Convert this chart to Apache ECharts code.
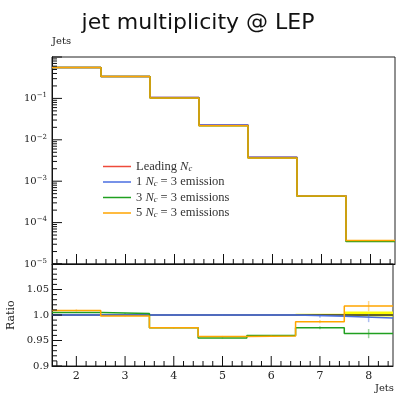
<!DOCTYPE html>
<html><head><meta charset="utf-8">
<script src="https://cdn.jsdelivr.net/npm/echarts@6/dist/echarts.min.js"></script>
<style>html,body{margin:0;padding:0;background:#fff}#c{width:396px;height:396px}</style>
</head><body><div id="c"></div>
<script>
// ---- data ----
const bins = [2, 3, 4, 5, 6, 7, 8];
const seriesNames = ['Leading N_c', '1 N_c = 3 emission', '3 N_c = 3 emissions', '5 N_c = 3 emissions'];
const leadingValues = [0.556, 0.338, 0.105, 0.0229, 0.00378, 0.000446, 0.0000363];
const ratioLeading = [1.0, 1.0, 1.0, 1.0, 1.0, 1.0, 1.0];
const ratio1 = [1.0, 1.0, 1.0, 1.0, 1.0, 0.9975, 0.994];
const ratio3 = [1.005, 1.003, 0.975, 0.955, 0.960, 0.975, 0.9635];
const ratio5 = [1.009, 0.998, 0.975, 0.958, 0.959, 0.987, 1.0175];
const leadingErr = [0.0005, 0.0005, 0.0005, 0.0005, 0.0005, 0.0015, 0.005];
const leadingBandCenter = [1.0, 1.0, 1.0, 1.0, 1.0, 1.001, 1.002];
const err1 = [0.001, 0.001, 0.001, 0.001, 0.001, 0.003, 0.008];
const err3 = [0.001, 0.001, 0.001, 0.001, 0.001, 0.003, 0.009];
const err5 = [0.002, 0.001, 0.001, 0.001, 0.001, 0.003, 0.01];
const xTickLabels = ['2', '3', '4', '5', '6', '7', '8'];
const ratioTickLabels = {'0.9': '0.9', '0.95': '0.95', '1': '1.0', '1.05': '1.05'};
const colors = ['#ee4a3a', '#4a6ee0', '#20a020', '#ffa500'];

// ---- helpers ----
function stepData(vals) {
  const d = bins.map((b, i) => [b - 0.5, vals[i]]);
  d.push([bins[bins.length - 1] + 0.5, vals[vals.length - 1]]);
  return d;
}
const ratios = [ratioLeading, ratio1, ratio3, ratio5];
const errs = [leadingErr, err1, err3, err5];
const mainVals = ratios.map(r => leadingValues.map((v, i) => v * r[i]));

const X0 = 1.5, X1 = 8.5;
function xTicks(yBase) {
  const t = [];
  for (let k = 15; k <= 85; k += 1) {
    const v = k / 10;
    if (k % 10 === 0) t.push([v, yBase, 10]);
    else if (k % 2 === 0) t.push([v, yBase, 5]);
  }
  return t;
}
const mainYTicks = [];
for (let e = -5; e <= 0; e++) {
  mainYTicks.push([X0, Math.pow(10, e), 10, 1]);
  if (e < 0) for (let m = 2; m <= 9; m++) mainYTicks.push([X0, m * Math.pow(10, e), 5, 1]);
}
const ratioYTicks = [];
for (let k = 90; k <= 110; k++) {
  const v = k / 100;
  ratioYTicks.push([X0, v, k % 5 === 0 ? 10 : 5, 1]);
}
const mainTickData = xTicks(1e-5).map(a => [a[0], a[1], a[2], 0]).concat(mainYTicks);
const ratioTickData = xTicks(0.9).map(a => [a[0], a[1], a[2], 0]).concat(ratioYTicks);

function tickRender(params, api) {
  const p = api.coord([api.value(0), api.value(1)]);
  const len = api.value(2);
  const vert = api.value(3) === 0;
  const shape = vert ? {x1: p[0], y1: p[1], x2: p[0], y2: p[1] - len}
                     : {x1: p[0], y1: p[1], x2: p[0] + len, y2: p[1]};
  return {type: 'line', shape: shape, style: {stroke: '#111', lineWidth: 1}};
}

const LF = 'Liberation Serif';
const legendRich = {
  n: {fontFamily: LF, fontSize: 12.5, color: '#333'},
  i: {fontFamily: LF, fontStyle: 'italic', fontSize: 12.5, color: '#333'},
  s: {fontFamily: LF, fontStyle: 'italic', fontSize: 8.5, color: '#333', verticalAlign: 'bottom', padding: [5, 0, 0, 0]}
};
function legendFmt(name) {
  return name.replace(/^(.*?)N_c(.*)$/, (m, a, b) => '{n|' + a + '}{i|N}{s|c}{n|' + b + '}');
}

const series = [];
mainVals.forEach((vals, i) => {
  series.push({
    name: seriesNames[i], type: 'line', xAxisIndex: 0, yAxisIndex: 0,
    step: 'end', data: stepData(vals), showSymbol: false, symbol: 'none',
    lineStyle: {color: colors[i], width: 1.5}, itemStyle: {color: colors[i]},
    animation: false, z: 3 + i
  });
});
series.push({
  type: 'custom', xAxisIndex: 1, yAxisIndex: 1, animation: false, z: 2, silent: true,
  data: bins.map((b, i) => [b, leadingBandCenter[i], leadingErr[i]]),
  renderItem: function (params, api) {
    const b = api.value(0), c = api.value(1), e = api.value(2);
    const p0 = api.coord([b - 0.5, c + e]);
    const p1 = api.coord([b + 0.5, c - e]);
    return {type: 'rect', shape: {x: p0[0], y: p0[1], width: p1[0] - p0[0], height: Math.max(p1[1] - p0[1], 0.5)},
            style: {fill: '#ffff00'}};
  }
});
series.push({
  type: 'line', xAxisIndex: 1, yAxisIndex: 1, step: 'end', data: stepData(ratioLeading),
  showSymbol: false, symbol: 'none', lineStyle: {color: '#333', width: 1.5}, animation: false, z: 3, silent: true
});
for (let i = 1; i < 4; i++) {
  series.push({
    name: seriesNames[i], type: 'line', xAxisIndex: 1, yAxisIndex: 1,
    step: 'end', data: stepData(ratios[i]), showSymbol: false, symbol: 'none',
    lineStyle: {color: colors[i], width: 1.5}, itemStyle: {color: colors[i]},
    animation: false, z: 4 + i
  });
  series.push({
    type: 'custom', xAxisIndex: 1, yAxisIndex: 1, animation: false, z: 4 + i, silent: true,
    data: bins.map((b, j) => [b, ratios[i][j], errs[i][j]]),
    renderItem: (function (col) {
      return function (params, api) {
        const p0 = api.coord([api.value(0), api.value(1) + api.value(2)]);
        const p1 = api.coord([api.value(0), api.value(1) - api.value(2)]);
        return {type: 'line', shape: {x1: p0[0], y1: p0[1], x2: p1[0], y2: p1[1]},
                style: {stroke: col, lineWidth: 1.5, opacity: 0.45}};
      };
    })(colors[i])
  });
}
series.push({type: 'custom', xAxisIndex: 0, yAxisIndex: 0, data: mainTickData, renderItem: tickRender,
             animation: false, z: 20, silent: true, clip: false});
series.push({type: 'custom', xAxisIndex: 1, yAxisIndex: 1, data: ratioTickData, renderItem: tickRender,
             animation: false, z: 20, silent: true, clip: false});

const serif = 'DejaVu Serif';
const option = {
  animation: false,
  backgroundColor: '#fff',
  title: {text: 'jet multiplicity @ LEP', left: 'center', top: 7,
          textStyle: {fontFamily: 'DejaVu Sans', fontWeight: 'normal', fontSize: 22, color: '#111'}},
  graphic: [
    {type: 'text', left: 52, top: 36, style: {text: 'Jets', fontFamily: serif, fontSize: 10, fill: '#222'}},
    {type: 'text', right: 2, top: 383, style: {text: 'Jets', fontFamily: serif, fontSize: 10, fill: '#222'}},
    {type: 'text', x: 6, y: 330, rotation: Math.PI / 2, style: {text: 'Ratio', fontFamily: serif, fontSize: 11, fill: '#222'}}
  ],
  legend: {
    orient: 'vertical', left: 103, top: 160, padding: 0, itemGap: 2.5, itemWidth: 28, itemHeight: 1.5, icon: 'rect',
    data: seriesNames, formatter: legendFmt, selectedMode: false,
    textStyle: {rich: legendRich, lineHeight: 13}
  },
  grid: [
    {left: 52, right: 1, top: 57, height: 207, show: true, borderColor: '#222', borderWidth: 1},
    {left: 52, right: 1, top: 264, height: 102, show: true, borderColor: '#222', borderWidth: 1}
  ],
  xAxis: [
    {type: 'value', gridIndex: 0, min: X0, max: X1, splitNumber: 7,
     axisLabel: {show: false}, axisTick: {show: false}, splitLine: {show: false},
     axisLine: {show: true, lineStyle: {color: '#111'}}},
    {type: 'value', gridIndex: 1, min: X0, max: X1, splitNumber: 7,
     axisLabel: {show: true, margin: 5, fontFamily: serif, fontSize: 11, color: '#222',
                 formatter: v => (Math.abs(v - Math.round(v)) < 1e-6 && bins.indexOf(Math.round(v)) >= 0) ? xTickLabels[bins.indexOf(Math.round(v))] : ''},
     axisTick: {show: false}, splitLine: {show: false},
     axisLine: {show: true, lineStyle: {color: '#111'}}}
  ],
  yAxis: [
    {type: 'log', gridIndex: 0, min: 1e-5, max: 1, logBase: 10,
     axisLabel: {show: true, margin: 5, fontFamily: serif, fontSize: 10, color: '#222',
                 formatter: v => {
                   const e = Math.round(Math.log10(v));
                   if (e >= 0) return '';
                   return '{b|10}{s|−' + (-e) + '}';
                 },
                 rich: {b: {fontFamily: serif, fontSize: 10, color: '#222'},
                        s: {fontFamily: serif, fontSize: 7, color: '#222', verticalAlign: 'top', padding: [0, 0, 6, 0]}}},
     axisTick: {show: false}, splitLine: {show: false}, minorTick: {show: false},
     axisLine: {show: true, lineStyle: {color: '#111'}}},
    {type: 'value', gridIndex: 1, min: 0.9, max: 1.1, interval: 0.05,
     axisLabel: {show: true, margin: 3, fontFamily: serif, fontSize: 10, color: '#222',
                 formatter: v => {
                   const k = String(Math.round(v * 100) / 100);
                   return ratioTickLabels[k] || '';
                 }},
     axisTick: {show: false}, splitLine: {show: false},
     axisLine: {show: true, lineStyle: {color: '#111'}}}
  ],
  series: series
};
const chart = echarts.init(document.getElementById('c'), null, {renderer: 'canvas'});
chart.setOption(option);
</script></body></html>
